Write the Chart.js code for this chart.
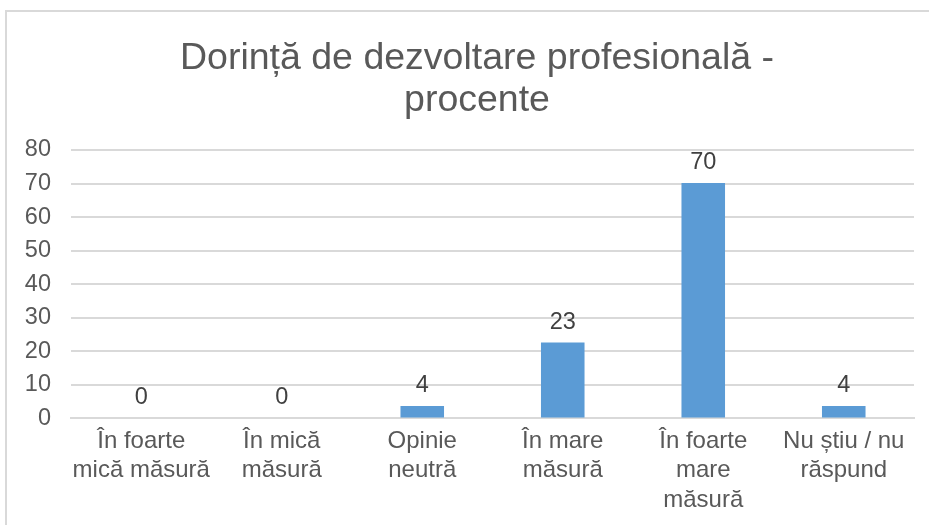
<!DOCTYPE html>
<html>
<head>
<meta charset="utf-8">
<script src="https://cdn.jsdelivr.net/npm/chart.js@4"></script>
<style>
html,body{margin:0;padding:0;background:#fff;overflow:hidden;width:929px;height:525px;}
#frame{position:absolute;left:5px;top:10px;width:980px;height:600px;border:2px solid #d9d9d9;box-sizing:border-box;}
#wrap{position:absolute;left:0;top:0;width:929px;height:525px;}
</style>
</head>
<body>
<div id="frame"></div>
<div id="wrap"><canvas id="c" width="929" height="525"></canvas></div>
<script>
const titleLines = ["Dorință de dezvoltare profesională -", "procente"];
const categories = [
  ["În foarte", "mică măsură"],
  ["În mică", "măsură"],
  ["Opinie", "neutră"],
  ["În mare", "măsură"],
  ["În foarte", "mare", "măsură"],
  ["Nu știu / nu", "răspund"]
];
const values = [0, 0, 3.7, 22.6, 70.2, 3.7];
const yTicks = { min: 0, max: 80, step: 10 };

const FONT = "'Liberation Sans', Arial, sans-serif";

// Title drawn centred on the chart frame (not on the padded layout box)
const titlePlugin = {
  id: 'frameTitle',
  afterDraw(chart) {
    const ctx = chart.ctx;
    const size = 37.5, lh = size * 1.14, top = 37;
    const cx = 477;
    ctx.save();
    ctx.font = size + "px " + FONT;
    ctx.fillStyle = "#595959";
    ctx.textAlign = "center";
    ctx.textBaseline = "middle";
    titleLines.forEach((t, i) => ctx.fillText(t, cx, top + lh * i + lh / 2));
    ctx.restore();
  }
};

const labelPlugin = {
  id: 'valueLabels',
  afterDatasetsDraw(chart) {
    const ctx = chart.ctx;
    const meta = chart.getDatasetMeta(0);
    ctx.save();
    ctx.font = "23.5px " + FONT;
    ctx.fillStyle = "#404040";
    ctx.textAlign = "center";
    ctx.textBaseline = "alphabetic";
    meta.data.forEach((bar, i) => {
      ctx.fillText(String(Math.round(values[i])), bar.x, bar.y - 14);
    });
    ctx.restore();
  }
};

new Chart(document.getElementById('c'), {
  type: 'bar',
  data: {
    labels: categories,
    datasets: [{
      data: values,
      backgroundColor: '#5B9BD5',
      borderWidth: 0,
      barPercentage: 0.62,
      categoryPercentage: 0.5
    }]
  },
  options: {
    responsive: false,
    animation: false,
    layout: { padding: { left: 6, right: 15, top: 150, bottom: 2 } },
    plugins: {
      legend: { display: false },
      tooltip: { enabled: false },
      title: { display: false }
    },
    scales: {
      x: {
        grid: { display: false, drawTicks: false },
        border: { display: true, color: '#d9d9d9', width: 2 },
        ticks: {
          color: '#595959',
          font: { family: FONT, size: 24, lineHeight: 1.23 },
          padding: 8,
          maxRotation: 0,
          autoSkip: false
        }
      },
      y: {
        min: yTicks.min,
        max: yTicks.max,
        afterFit(scale) { scale.width = 65; },
        grid: { color: '#d9d9d9', lineWidth: 2, drawTicks: false },
        border: { display: false },
        ticks: {
          stepSize: yTicks.step,
          color: '#595959',
          font: { family: FONT, size: 23.5 },
          padding: 20
        }
      }
    }
  },
  plugins: [labelPlugin, titlePlugin]
});
</script>
</body>
</html>
